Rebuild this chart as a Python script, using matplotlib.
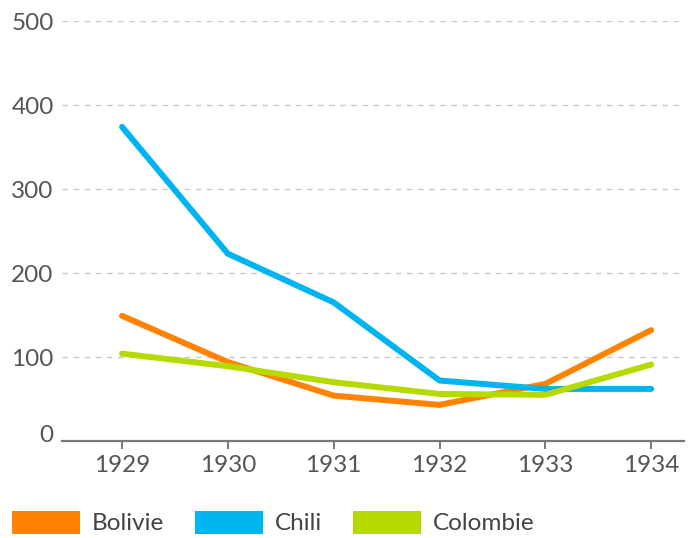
import matplotlib.pyplot as plt
import matplotlib.transforms as mtransforms
from matplotlib.patches import Patch

years = ["1929", "1930", "1931", "1932", "1933", "1934"]
bolivie = [149, 94, 54, 43, 68, 132]
chili = [374, 223, 165, 72, 62, 62]
colombie = [104, 89, 70, 56, 55, 91]
series_names = ["Bolivie", "Chili", "Colombie"]
colors = ["#FF8200", "#00B4F0", "#B4DA00"]
yticks = [0, 100, 200, 300, 400, 500]

plt.rcParams['font.family'] = ['Lato', 'DejaVu Sans']
FS = 17.5

fig = plt.figure(figsize=(6.92, 5.38), dpi=100)
ax = fig.add_axes([62 / 692, 1 - 441 / 538, (684 - 62) / 692, (441 - 21) / 538])

x = list(range(len(years)))
for vals, c in zip([bolivie, chili, colombie], colors):
    ax.plot(x, vals, color=c, lw=4.3, solid_capstyle='round', solid_joinstyle='round')

ax.set_xlim(-0.567, 5.31)
ax.set_ylim(0, 500)
ax.set_xticks(x)
ax.set_xticklabels(years)
ax.set_yticks(yticks)
ax.set_yticklabels([str(v) for v in yticks])

# dashed grid
for v in yticks[1:]:
    ax.axhline(v, color='#c8c8c8', lw=1, ls=(0, (4, 4)), zorder=0)

for s in ['top', 'right', 'left']:
    ax.spines[s].set_visible(False)
ax.spines['bottom'].set_color('#777777')
ax.spines['bottom'].set_linewidth(1.6)

ax.tick_params(axis='x', length=6, width=1.4, color='#777777', labelsize=FS,
               labelcolor='#555555', pad=4)
ax.tick_params(axis='y', length=0, labelsize=FS, labelcolor='#555555', pad=6)

# lift the "0" label a bit above the axis line
lbl0 = ax.get_yticklabels()[0]
lbl0.set_transform(lbl0.get_transform() + mtransforms.ScaledTranslation(0, 8 / 100, fig.dpi_scale_trans))

handles = [Patch(facecolor=c, edgecolor='none', label=n) for n, c in zip(series_names, colors)]
fig.legend(handles=handles, loc='center left', bbox_to_anchor=(12 / 692, 15.5 / 538), ncol=3,
           frameon=False, fontsize=FS, handlelength=2.8, handleheight=1.1,
           handletextpad=0.5, columnspacing=1.25, labelcolor='#444444',
           borderpad=0, borderaxespad=0)

fig.savefig("out.png", dpi=100)
